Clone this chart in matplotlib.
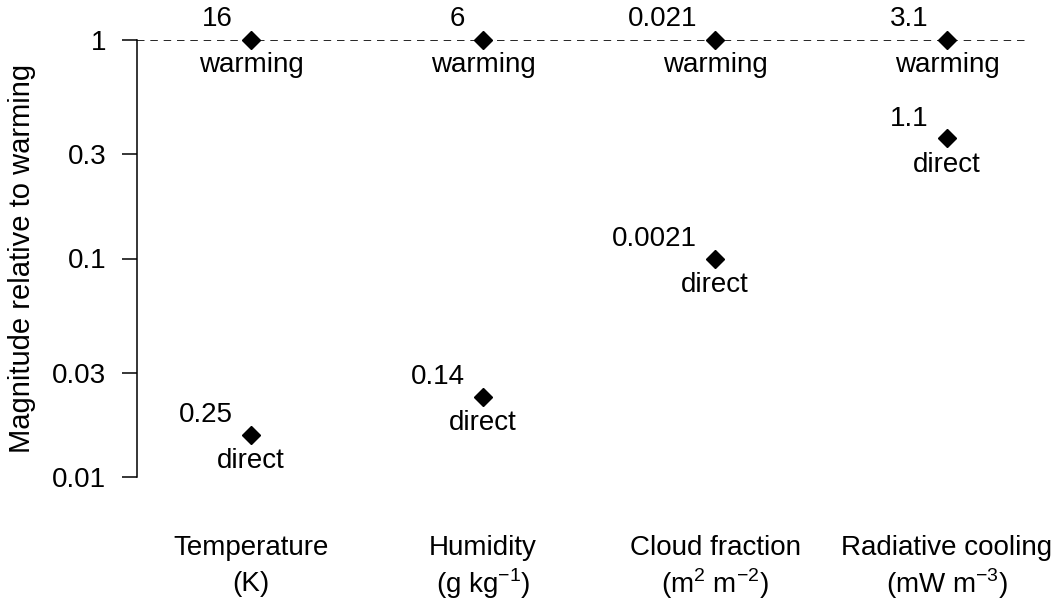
import numpy as np
import matplotlib
matplotlib.use('Agg')
from matplotlib import pyplot as plt

plt.rcParams['font.family'] = ['Liberation Sans', 'DejaVu Sans']
plt.rcParams['mathtext.fontset'] = 'custom'
plt.rcParams['mathtext.rm'] = 'Liberation Sans'

categories = ['Temperature', 'Humidity', 'Cloud fraction', 'Radiative cooling']
units = ['(K)', r'(g kg$^{-1}$)', r'(m$^2$ m$^{-2}$)', r'(mW m$^{-3}$)']
warming = np.array([16, 6, 0.021, 3.1])
direct = np.array([0.25, 0.14, 0.0021, 1.1])
warming_labels = ['16', '6', '0.021', '3.1']
direct_labels = ['0.25', '0.14', '0.0021', '1.1']
yticks = [0.01, 0.03, 0.1, 0.3, 1]
ytick_labels = ['0.01', '0.03', '0.1', '0.3', '1']

fs = 20

fig = plt.figure(figsize=(10.6, 6.01), dpi=100)
ax = fig.add_axes([137 / 1060, 1 - 477 / 601, (1025 - 137) / 1060, 437 / 601])

x = np.arange(len(categories))
rel_warm = warming / warming
rel_direct = direct / warming

ax.axhline(1, color='black', ls=(0, (4.5, 3.5)), lw=1.2)
ax.plot(x, rel_warm, 'D', color='black', ms=9, clip_on=False)
ax.plot(x, rel_direct, 'D', color='black', ms=9, clip_on=False)

for i in range(len(x)):
    ax.annotate(warming_labels[i], (x[i], rel_warm[i]), xytext=(-13, 15),
                textcoords='offset points', ha='right', va='center', fontsize=fs)
    ax.annotate('warming', (x[i], rel_warm[i]), xytext=(0, -18),
                textcoords='offset points', ha='center', va='center', fontsize=fs)
    ax.annotate(direct_labels[i], (x[i], rel_direct[i]), xytext=(-13, 14),
                textcoords='offset points', ha='right', va='center', fontsize=fs)
    ax.annotate('direct', (x[i], rel_direct[i]), xytext=(0, -19),
                textcoords='offset points', ha='center', va='center', fontsize=fs)
    ax.annotate(categories[i], (x[i], 0), xycoords=('data', 'axes fraction'),
                xytext=(0, -51), textcoords='offset points', ha='center',
                va='center', fontsize=fs)
    ax.annotate(units[i], (x[i], 0), xycoords=('data', 'axes fraction'),
                xytext=(0, -77), textcoords='offset points', ha='center',
                va='center', fontsize=fs)

ax.set_yscale('log')
ax.set_ylim(0.01, 1)
ax.set_xlim(-(251 - 137) / 232, 3 + (1025 - 947) / 232)
ax.set_yticks(yticks)
ax.set_yticklabels(ytick_labels)
ax.yaxis.set_minor_locator(matplotlib.ticker.NullLocator())
ax.set_xticks([])
ax.tick_params(axis='y', labelsize=fs, length=11, width=1.1, pad=11)
for s in ['top', 'right', 'bottom']:
    ax.spines[s].set_visible(False)
ax.spines['left'].set_linewidth(1.1)
ax.set_ylabel('Magnitude relative to warming', fontsize=21, labelpad=12)

fig.savefig('out.png', dpi=100)
